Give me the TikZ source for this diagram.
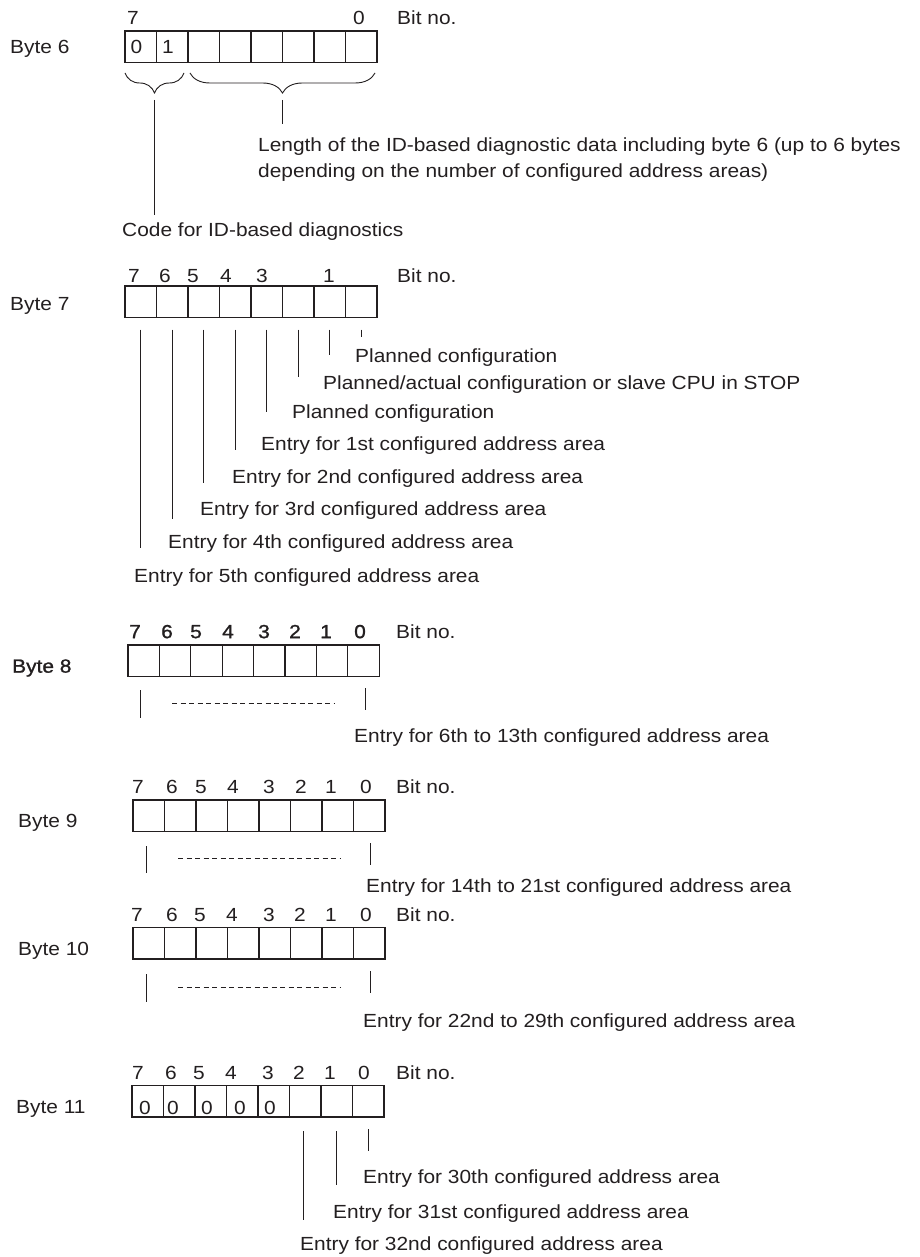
\documentclass[tikz,border=0pt]{standalone}
\usepackage{fontspec}
\setmainfont{Liberation Sans}[FakeStretch=1.1]
\newfontfamily\heavier{Liberation Sans}[FakeStretch=1.1, FakeBold=1.2]
\usetikzlibrary{decorations.pathreplacing,calc}
\definecolor{txt}{HTML}{231F20}
\newcommand\fsz{\fontsize{19}{22}\selectfont}
\tikzset{
  cell/.style={draw=txt, line width=1.1pt, minimum width=31.5pt, minimum height=31.5pt,
               inner sep=0pt, outer sep=0pt, anchor=north west},
  lbl/.style={anchor=mid west, inner sep=0pt, text=txt, font=\fsz, yshift=-3pt},
  num/.style={anchor=mid, inner sep=0pt, text=txt, font=\fsz, yshift=-2.5pt},
  bold8/.style={font=\fsz\heavier},
  lead/.style={draw=txt, line width=0.9pt},
  dots/.style={draw=txt, line width=0.8pt, dash pattern=on 5pt off 3.5pt},
  brc/.style={draw=txt, line width=0.9pt, decorate, decoration={brace, mirror, amplitude=20pt}},
}
\begin{document}
\begin{tikzpicture}[x=1pt, y=-1pt]
\useasboundingbox[fill=white] (0,0) rectangle (919,1257);

% ---------------- Byte 6
\node[lbl] (l6) at (10,48) {Byte 6};
\foreach \i in {0,...,7} \node[cell] (b6-\i) at (125+\i*31.5,31) {};
\node[num] (n6a) at (133,19) {7};
\node[num] (n6b) at (359,19) {0};
\node[lbl] (bn6) at (397,19) {Bit no.};
\node[num] (z60) at (136.5,48) {0};
\node[num] (z61) at (168,48) {1};
\draw[brc] (125,73) -- (184,73);
\draw[brc] (190,73) -- (375,73);
\coordinate (tipA) at (154.5,100);
\coordinate (tipB) at (282.5,100);
\node[lbl] (len1) at (258,146) {Length of the ID-based diagnostic data including byte 6 (up to 6 bytes};
\node[lbl] (len2) at (258,172) {depending on the number of configured address areas)};
\node[lbl] (code) at (122,231) {Code for ID-based diagnostics};
\draw[lead] (tipA) -- (tipA |- 0,215);
\draw[lead] (tipB) -- (tipB |- 0,124);

% ---------------- Byte 7
\node[lbl] (l7) at (10,305) {Byte 7};
\foreach \i in {0,...,7} \node[cell] (b7-\i) at (125+\i*31.5,286) {};
\foreach \x/\t in {134/7,165/6,193/5,226/4,262/3,329/1}
  \node[num] at (\x,277) {\t};
\node[lbl] (bn7) at (397,277) {Bit no.};
\foreach \i/\e in {7/337,6/355,5/377,4/412,3/450,2/483,1/519,0/548}
  \draw[lead] (b7-\i.south) ++(0,12) -- (b7-\i.south |- 0,\e);
\node[lbl] (p0) at (355,357) {Planned configuration};
\node[lbl] (p1) at (323,384) {Planned/actual configuration or slave CPU in STOP};
\node[lbl] (p2) at (292,413) {Planned configuration};
\node[lbl] (p3) at (261,445) {Entry for 1st configured address area};
\node[lbl] (p4) at (232,478) {Entry for 2nd configured address area};
\node[lbl] (p5) at (200,510) {Entry for 3rd configured address area};
\node[lbl] (p6) at (168,543) {Entry for 4th configured address area};
\node[lbl] (p7) at (134,577) {Entry for 5th configured address area};

% ---------------- Byte 8
\node[lbl, bold8] (l8) at (12,667) {Byte 8};
\foreach \i in {0,...,7} \node[cell] (b8-\i) at (128+\i*31.4,645) {};
\foreach \x [count=\c from 0] in {135,167,196,228,264,295,326,360}
  \pgfmathtruncatemacro\bit{7-\c}
  \node[num, bold8] at (\x,633) {\bit};
\node[lbl] (bn8) at (396,633) {Bit no.};
\draw[lead] (140,690) -- (140,718);
\draw[lead] (365,688) -- (365,710);
\draw[dots] (172,703) -- (335,703);
\node[lbl] (e8) at (354,737) {Entry for 6th to 13th configured address area};

% ---------------- Byte 9
\node[lbl] (l9) at (18,822) {Byte 9};
\foreach \i in {0,...,7} \node[cell] (b9-\i) at (133+\i*31.5,800) {};
\foreach \x [count=\c from 0] in {138,172,201,233,269,301,331,366}
  \pgfmathtruncatemacro\bit{7-\c}
  \node[num] at (\x,788) {\bit};
\node[lbl] (bn9) at (396,788) {Bit no.};
\draw[lead] (146,846) -- (146,873);
\draw[lead] (370,843) -- (370,865);
\draw[dots] (178,858) -- (340,858);
\node[lbl] (e9) at (366,887) {Entry for 14th to 21st configured address area};

% ---------------- Byte 10
\node[lbl] (l10) at (18,950) {Byte 10};
\foreach \i in {0,...,7} \node[cell] (b10-\i) at (133+\i*31.5,927.5) {};
\foreach \x [count=\c from 0] in {137,172,200,232,269,300,331,366}
  \pgfmathtruncatemacro\bit{7-\c}
  \node[num] at (\x,916) {\bit};
\node[lbl] (bn10) at (396,916) {Bit no.};
\draw[lead] (146,974) -- (146,1002);
\draw[lead] (370,971) -- (370,993);
\draw[dots] (178,987) -- (340,987);
\node[lbl] (e10) at (363,1022) {Entry for 22nd to 29th configured address area};

% ---------------- Byte 11
\node[lbl] (l11) at (16,1108) {Byte 11};
\foreach \i in {0,...,7} \node[cell] (b11-\i) at (132+\i*31.5,1085.5) {};
\foreach \x [count=\c from 0] in {138,171,199,231,268,299,330,364}
  \pgfmathtruncatemacro\bit{7-\c}
  \node[num] at (\x,1074) {\bit};
\node[lbl] (bn11) at (396,1074) {Bit no.};
\foreach \x in {145,173,207,240,270}
  \node[num] at (\x,1109) {0};
\draw[lead] (b11-7.south) ++(0,12) -- (b11-7.south |- 0,1151);
\draw[lead] (b11-6.south) ++(0,14) -- (b11-6.south |- 0,1185);
\draw[lead] (b11-5.south) ++(-2,14) -- ($(b11-5.south |- 0,1220)+(-2,0)$);
\node[lbl] (e30) at (363,1178) {Entry for 30th configured address area};
\node[lbl] (e31) at (333,1213) {Entry for 31st configured address area};
\node[lbl] (e32) at (300,1245) {Entry for 32nd configured address area};
\end{tikzpicture}
\end{document}
